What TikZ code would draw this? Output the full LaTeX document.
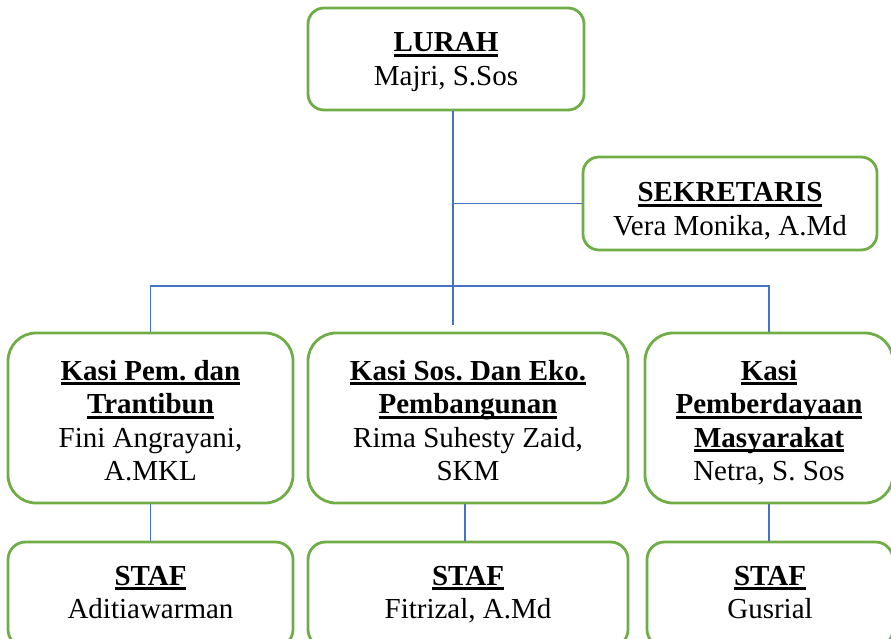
\documentclass[tikz,border=0pt]{standalone}
\usepackage{fontspec}
\setmainfont{Liberation Serif}
\frenchspacing
\definecolor{boxgreen}{HTML}{70AD47}
\definecolor{linkblue}{HTML}{4472C4}
\newcommand\hdr[1]{\setbox0\hbox{\bfseries #1}\rlap{\rule[-5pt]{\wd0}{2.6pt}}\box0}
\newcommand\topstrut[1]{\rule{0pt}{#1}}
\newcommand\botstrut[1]{\rule[-#1]{0pt}{#1}}
\tikzset{
  orgbox/.style={draw=boxgreen, line width=2.8pt, fill=white, rounded corners=#1,
    align=center, inner sep=0pt, font=\fontsize{29pt}{33.5pt}\selectfont},
  orgbox/.default=16pt,
  link/.style={draw=linkblue, line width=1.3pt}
}
\begin{document}
\begin{tikzpicture}[x=1pt,y=-1pt]
\useasboundingbox (0,0) rectangle (891,639);
\clip (0,0) rectangle (891,639);
\node[orgbox, minimum width=276pt, minimum height=102pt] (lurah) at (446,59)
  {\topstrut{44pt}\hdr{LURAH}\\Majri, S.Sos\botstrut{24.5pt}};
\node[orgbox, minimum width=294pt, minimum height=93pt] (sek) at (730,203.5)
  {\topstrut{44.7pt}\hdr{SEKRETARIS}\\Vera Monika, A.Md\botstrut{14.8pt}};
\node[orgbox=28pt, minimum width=285pt, minimum height=170pt] (k1) at (150.5,418)
  {\topstrut{47pt}\hdr{Kasi Pem. dan}\\\hdr{Trantibun}\\Fini Angrayani,\\A.MKL\botstrut{22.5pt}};
\node[orgbox=28pt, minimum width=320pt, minimum height=170pt] (k2) at (468,418)
  {\topstrut{47pt}\hdr{Kasi Sos. Dan Eko.}\\\hdr{Pembangunan}\\Rima Suhesty Zaid,\\SKM\botstrut{22.5pt}};
\node[orgbox=28pt, minimum width=248pt, minimum height=170pt] (k3) at (769,418)
  {\topstrut{47pt}\hdr{Kasi}\\\hdr{Pemberdayaan}\\\hdr{Masyarakat}\\Netra, S. Sos\botstrut{22.5pt}};
\node[orgbox=17.5pt, minimum width=285pt, minimum height=105pt] (s1) at (150.5,594.5)
  {\topstrut{43pt}\hdr{STAF}\\Aditiawarman\botstrut{28.5pt}};
\node[orgbox=17.5pt, minimum width=320pt, minimum height=105pt] (s2) at (468,594.5)
  {\topstrut{43pt}\hdr{STAF}\\Fitrizal, A.Md\botstrut{28.5pt}};
\node[orgbox=17.5pt, minimum width=246pt, minimum height=105pt] (s3) at (770,594.5)
  {\topstrut{43pt}\hdr{STAF}\\Gusrial\botstrut{28.5pt}};
\coordinate (trunk) at (453,325);
\coordinate (bus) at (0,286);
\coordinate (c2) at (465,0);
\draw[link] (lurah.south -| trunk) -- (trunk);
\draw[link] (sek.west) -- (sek.west -| trunk);
\draw[link] (k1.north) -- (k1.north |- bus) -- (k3.north |- bus) -- (k3.north);
\draw[link] (k1.south) -- (k1.south |- s1.north);
\draw[link] (k2.south -| c2) -- (s2.north -| c2);
\draw[link] (k3.south) -- (k3.south |- s3.north);
\end{tikzpicture}
\end{document}
